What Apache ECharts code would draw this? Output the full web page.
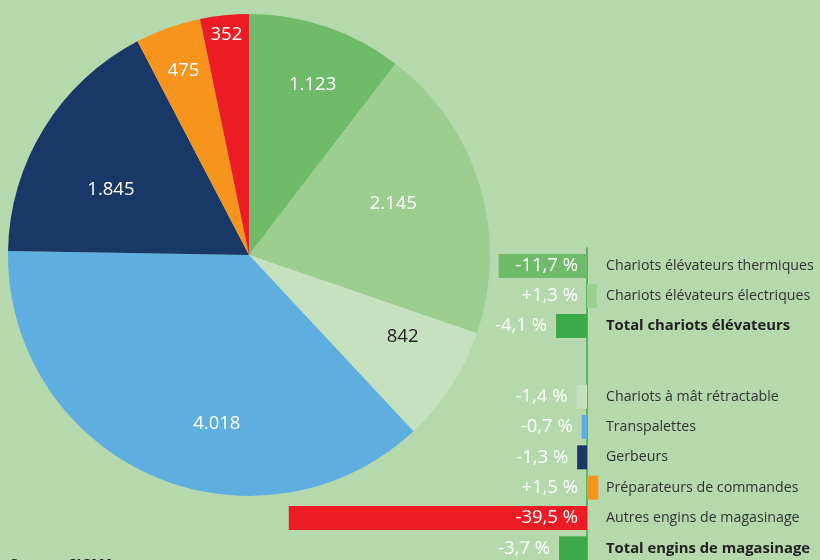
<!DOCTYPE html>
<html>
<head>
<meta charset="utf-8">
<script src="https://cdn.jsdelivr.net/npm/echarts@6/dist/echarts.min.js"></script>
<style>
  html, body { margin: 0; padding: 0; background: #b5d8ad; }
  #chart { width: 820px; height: 560px; }
</style>
</head>
<body>
<div id="chart"></div>
<script>
// parts (pie, clockwise from top)
var pieNames = ['Chariots élévateurs thermiques', 'Chariots élévateurs électriques', 'Chariots à mât rétractable',
                'Transpalettes', 'Gerbeurs', 'Préparateurs de commandes', 'Autres engins de magasinage'];
var pieValues = [1123, 2145, 842, 4018, 1845, 475, 352];

// evolution in %
var groupA = ['Chariots élévateurs thermiques', 'Chariots élévateurs électriques', 'Total chariots élévateurs'];
var changesA = [-11.7, 1.3, -4.1];
var groupB = ['Chariots à mât rétractable', 'Transpalettes', 'Gerbeurs', 'Préparateurs de commandes',
              'Autres engins de magasinage', 'Total engins de magasinage'];
var changesB = [-1.4, -0.7, -1.3, 1.5, -39.5, -3.7];

var pieColors = ['#6fbb6a', '#9bce8f', '#c6e1bf', '#5eaee0', '#183868', '#f7941d', '#ed1c24'];
var barColorsA = ['#6fbb6a', '#9bce8f', '#3daa4a'];
var barColorsB = ['#c6e1bf', '#5eaee0', '#183868', '#f7941d', '#ed1c24', '#3daa4a'];
// label shifts from the default inside position
var pieLabelShift = [[24, -53], [26, -16], [50, 15], [18, 56], [-33, 0], [-24, -68], [-10, -97]];

var FONT = 'Open Sans';

function thousands(v) {
  return String(v).replace(/\B(?=(\d{3})+(?!\d))/g, '.');
}
function pct(v) {
  return (v > 0 ? '+' : '') + v.toFixed(1).replace('.', ',') + ' %';
}

function barData(values, colors) {
  return values.map(function (v, i) {
    var big = Math.abs(v) > 10;
    return {
      value: v,
      itemStyle: { color: colors[i] },
      label: { position: big ? 'insideRight' : 'left', distance: 9 }
    };
  });
}

function catAxis(names, gridIndex) {
  return {
    type: 'category', gridIndex: gridIndex, data: names, inverse: true, position: 'right',
    axisLine: { show: false }, axisTick: { show: false },
    axisLabel: {
      margin: 19, color: '#333', fontSize: 14.2, fontFamily: FONT,
      formatter: function (v) { return v.indexOf('Total') === 0 ? '{b|' + v + '}' : v; },
      rich: { b: { fontWeight: 'bold', color: '#222', fontSize: 14.8, fontFamily: FONT } }
    }
  };
}

var chart = echarts.init(document.getElementById('chart'));
chart.setOption({
  backgroundColor: '#b5d8ad',
  animation: false,
  grid: [
    { left: 285, right: 233, top: 248, height: 320, outerBoundsMode: 'none' },
    { left: 285, right: 233, top: 251, height: 90, outerBoundsMode: 'none' },
    { left: 285, right: 233, top: 381.5, height: 182, outerBoundsMode: 'none' }
  ],
  xAxis: [0, 1, 2].map(function (i) {
    return { type: 'value', gridIndex: i, min: -40, max: 0, show: false };
  }),
  yAxis: [
    { type: 'value', gridIndex: 0, position: 'right',
      axisLine: { show: true, lineStyle: { color: '#3daa4a', width: 1.5 } },
      axisTick: { show: false }, axisLabel: { show: false }, splitLine: { show: false } },
    catAxis(groupA, 1),
    catAxis(groupB, 2)
  ],
  graphic: [{
    type: 'text', left: 10, top: 558,
    style: { text: 'Source : SIGMA', fill: '#222', font: 'bold 14px "Open Sans"' }
  }],
  series: [
    {
      type: 'pie', silent: true,
      center: [249, 255], radius: 241, startAngle: 90, clockwise: true,
      itemStyle: { borderWidth: 0 },
      label: { show: true, position: 'inside', color: '#fff', fontSize: 18.5, fontFamily: FONT,
               formatter: function (p) { return thousands(p.value); } },
      labelLine: { show: false },
      labelLayout: function (p) {
        return { dx: pieLabelShift[p.dataIndex][0], dy: pieLabelShift[p.dataIndex][1] };
      },
      emphasis: { disabled: true },
      data: pieValues.map(function (v, i) {
        return {
          name: pieNames[i], value: v, itemStyle: { color: pieColors[i] },
          label: i === 2 ? { color: '#231f20' } : undefined
        };
      })
    },
    {
      type: 'bar', xAxisIndex: 1, yAxisIndex: 1, barWidth: 24, clip: false, silent: true,
      label: { show: true, color: '#fff', fontSize: 18.5, fontFamily: FONT,
               formatter: function (p) { return pct(p.value); } },
      data: barData(changesA, barColorsA)
    },
    {
      type: 'bar', xAxisIndex: 2, yAxisIndex: 2, barWidth: 24, clip: false, silent: true,
      label: { show: true, color: '#fff', fontSize: 18.5, fontFamily: FONT,
               formatter: function (p) { return pct(p.value); } },
      data: barData(changesB, barColorsB)
    }
  ]
});
</script>
</body>
</html>
